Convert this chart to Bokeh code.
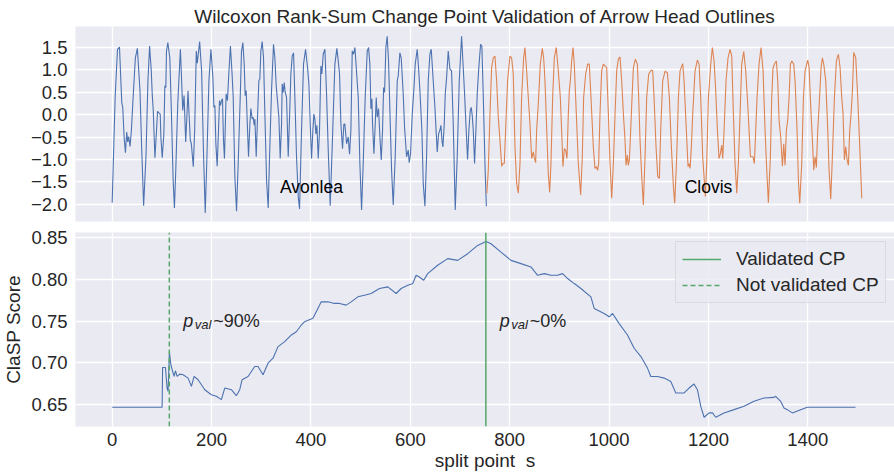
import math
from bokeh.plotting import figure
from bokeh.models import Range1d, FixedTicker, Label, Legend, LegendItem
from bokeh.layouts import column
from bokeh.embed import file_html
from bokeh.resources import INLINE

# ---------------- data ----------------
avonlea_x = [0, 6, 10.7, 14.7, 19.3, 21.3, 24, 26.7, 29.3, 31.3, 33.3, 36, 38.7, 42.7, 46.7, 50.7, 56, 59.3, 63.3, 68,
             72, 75.3, 78.7, 80.7, 82.7, 86, 89.3, 91.3, 94.7, 96.7, 98, 100.7, 104, 106, 108, 109.3, 112, 116, 119.3, 122.7,
             125.3, 128, 132, 137.3, 139.3, 142, 144.7, 148, 152.7, 154.7, 157.3, 159.3, 163.3, 166, 169.3, 171.3, 176, 180, 184, 187.3,
             190.7, 194.7, 198.7, 202.7, 204.7, 206.7, 208.7, 211.3, 214, 216, 218, 220, 222, 224, 226, 229.3, 232, 234.7, 238, 241.3,
             243.6, 246.9, 250.3, 253.6, 257.7, 260.3, 263, 265.7, 267.7, 269.7, 271.7, 274.4, 277.1, 279.1, 281.8, 283.8, 285.8, 287.2, 289.9, 292.5,
             295.2, 297.2, 299.2, 301.9, 304.6, 307.3, 310.7, 314, 316.7, 320.7, 324.7, 327.4, 330.1, 332.1, 335.5, 338.2, 340.9, 342.2, 344.2, 346.2,
             348.2, 350.9, 354.3, 357.6, 359.6, 362.3, 365, 367.7, 371, 374.4, 377.1, 381.1, 385.1, 389.2, 393.2, 395.9, 398.6, 401.2, 403.9, 405.9,
             407.9, 410, 412, 414.7, 417.3, 420, 422, 424.7, 428.1, 431.4, 434.8, 438.8, 442.8, 448.2, 452.2, 455.6, 457.6, 460.3, 463.6, 466.3,
             468.3, 471.7, 475, 477.7, 480.4, 483.1, 485.8, 488.5,
             495.2, 498.5, 501.9, 505.2, 509.2, 513.3, 516, 518.6, 520.7, 522.7, 524, 526.7, 529.4, 531.4, 533.4, 536.1, 538.8, 541.5, 544.1, 546.2,
             548.2, 550.8, 553.5, 556.2, 558.9, 562.3, 565.6, 569.6, 573.7, 575.7, 579, 581.7, 585.7, 588.4, 592.5, 595.8, 597.8, 600.5, 603.9, 607.2,
             609.9, 613.9, 616.6, 619.3, 623.3, 626, 629.4, 632.7, 636.1, 639.4, 642.1, 646.1, 649.5, 651.5, 654.2, 656.9, 659.5, 661.6, 663.6, 665.6,
             668.3, 670.3, 673, 676.3, 679.7, 683, 686.4, 690.4, 694.4, 698.5, 703.2, 706.5, 709.2, 711.9, 715.2, 717.9, 720.6, 722.6, 724.6, 726.7,
             729.3, 732, 734.7, 737.4, 741.4, 744, 746.9, 750.2, 753]
avonlea_y = [-1.96, 0.38, 1.45, 1.50, 0.27, 0.16, -0.50, -0.85, -0.39, -0.61, -0.49, -0.71, -0.35, 0.49, 1.26, 1.47, 0.53, -0.72, -2.03, -0.94,
             0.75, 1.52, 0.97, 0.43, 0.09, -0.96, -0.35, 0.07, 0.03, 0.01, -0.50, -0.96, -0.43, 0.64, 0.60, 1.41, 1.60, 1.26, 0.01, -1.46,
             -2.08, -1.24, 0.24, 1.45, 0.90, 0.09, 0.42, -0.61, 0.53, 0.01, -0.57, -0.65, -1.16, -0.35, 1.41, 1.14, 1.62, 0.97, -0.94, -2.19,
             -0.94, 0.75, 1.45, 0.82, 0.16, 0.20, -0.65, -1.15, -0.35, 0.31, 0.20, 0.31, 0.35, -0.57, -0.98, 0.46, 0.31, 0.90, 1.52, 0.90,
             0.38, -1.38, -2.15, -1.09, 0.38, 1.41, 1.60, 1.12, 0.42, 0.53, -0.13, -0.94, -0.21, 0.13, -0.10, -0.06, -0.24, -0.10, -0.94, -0.06,
             0.75, 0.79, 1.41, 1.62, 1.26, 0.01, -1.46, -2.08, -0.94, 0.53, 1.56, 1.26, 0.64, 0.38, -0.06, -0.98, -0.21, 0.68, 0.49, 0.71,
             0.49, 0.38, -0.94, 0.16, 0.90, 1.30, 1.37, 0.38, -0.94, -1.82, -2.10, -0.35, 1.12, 1.45, 1.04, 0.68, -0.21, -0.98, -0.35, 0.01,
             -0.10, -0.43, -0.24, -0.98, -0.35, 1.08, 0.90, 1.34, 1.45, 0.46, -0.79, -2.03, -0.72, 1.12, 1.47, 1.12, 0.90, -0.21, -0.76, -0.21,
             -0.21, -0.65, -0.50, -0.88, -0.35, 1.41, 1.34, 1.49,
             0.38, -1.09, -2.12, -1.09, 0.38, 1.41, 1.49, 1.12, 0.13, 0.35, -0.21, -0.87, -0.21, 0.38, -0.06, 0.13, -0.50, -1.01, -0.35, 0.60,
             0.49, 1.49, 1.74, 1.19, 0.09, -1.24, -2.01, -0.94, 0.75, 0.86, 1.37, 1.26, 0.46, -0.28, -0.94, -0.79, -1.07, -0.87, 0.01, 0.57,
             1.12, 1.45, 1.04, 0.53, -0.35, -1.53, -2.04, -0.94, 0.75, 1.34, 1.45, 0.75, 0.16, -0.28, -0.83, -0.43, -0.35, -0.24, -0.57, -0.72,
             -0.21, 0.46, 0.82, 1.41, 1.01, 0.97, -0.21, -2.12, -0.94, 0.75, 1.74, 1.04, 0.46, -0.21, -1.00, -0.35, 0.09, 0.16, -0.02, -0.35,
             -1.09, -0.35, 0.46, 0.97, 1.56, 1.52, 0.38, -1.09, -2.04]

clovis_x = [754, 756.9, 760.3, 763.6, 767, 770.3, 773.7, 777, 780.4, 783.8, 786.4, 789.1, 791.8, 795.8, 800.5, 803.9, 807.2, 810.6, 814, 817.3,
            820.7, 824, 828, 830.7, 834.1, 837.4, 840.8, 844.2, 847.5, 849.5, 852.2, 854.2, 857.6, 861.6, 865.6, 868.3, 871, 875, 877.7, 880.4,
            883.1, 886.4, 889.8, 893.8, 897.8, 901.9, 904.5, 907.2, 909.9, 912.6, 915.3, 918, 920, 922, 924.7, 927.4, 930, 934.1, 938.1, 942.8,
            946.1, 948.8, 952.9, 956.9, 960.2, 963.6, 968.3, 971.6, 974.3, 977, 979, 981.7, 985.1, 988.4, 991.8, 995.2, 998.6, 1001.9, 1005.3,
            1008.6, 1012, 1015.3, 1018.7, 1022, 1025.4, 1028.8, 1032.1, 1034.1, 1036.8, 1038.8, 1040.8, 1043.5, 1046.2, 1048.9, 1052.9, 1056.9, 1059.6, 1062.3, 1065.7,
            1069, 1072.4, 1075.7, 1079.7, 1085.1, 1087.8, 1090.5, 1094.5, 1097.9, 1101.2, 1103.9, 1107.9, 1112.6, 1117.3, 1121.3, 1125.4, 1129.4, 1132.1, 1136.1, 1139.5,
            1142.8, 1148.2, 1150.9, 1154.9, 1158.9, 1160.9, 1163, 1165.6, 1168.3, 1173, 1177.7, 1181.1, 1184.4, 1188.4, 1193.8, 1196.5, 1199.9, 1204.6, 1207.9, 1211.3,
            1214.6, 1218, 1221.3, 1224, 1226.7, 1228.7, 1231.4, 1235.4, 1239.4, 1243.5,
            1246.8, 1250.2, 1253.5, 1256.9, 1260.2, 1263.6, 1266.9, 1271, 1275, 1279, 1281.7, 1284.4, 1287.1, 1289.7, 1292.4, 1295.1, 1297.8, 1301.8, 1305.8, 1309.9,
            1313.9, 1317.3, 1320.6, 1324.6, 1327.3, 1330, 1334, 1336.7, 1339.4, 1342.1, 1345.4, 1348.8, 1351.5, 1354.2, 1356.8, 1359.5, 1362.2, 1364.9, 1367.6, 1371.6,
            1374.3, 1378.3, 1381, 1383.7, 1387.7, 1391.1, 1394.4, 1399.8, 1402.5, 1406.5, 1409.2, 1411.9, 1414.6, 1417.2, 1419.9, 1422.6, 1426.6, 1429.3, 1432, 1436,
            1440.1, 1442.7, 1446.1, 1449.4, 1453.5, 1457.5, 1461.5, 1464.9, 1468.2, 1470.9, 1473.6, 1476.3, 1479, 1481.6, 1484.3, 1487, 1489.7, 1492.4, 1496.4, 1500.4,
            1504.5, 1508.5]
clovis_y = [-1.75, -1.24, 0.01, 1.04, 1.26, 1.30, 0.75, -0.06, -0.57, -1.15, -1.09, -1.09, -0.35, 0.75, 1.30, 1.26, 0.90, -0.72, -1.53, -1.75,
            -1.09, 0.38, 1.26, 1.49, 0.97, 0.38, -0.21, -0.98, -0.83, -0.96, -1.07, -0.35, 0.24, 1.12, 1.47, 1.26, 0.75, -0.50, -1.31, -1.73,
            -1.09, 0.38, 1.26, 1.49, 0.97, 0.38, -0.35, -1.16, -0.76, -0.79, -0.98, 0.01, 0.53, 0.75, 1.19, 1.49, 1.12, 0.01, -1.09, -1.79,
            -0.94, 0.38, 0.90, 1.12, 1.12, 0.38, -0.72, -1.20, -1.16, -1.24, -1.09, 0.01, 0.97, 1.12, 1.08, 1.04, 0.01, -1.09, -1.86,
            -1.09, 0.01, 0.97, 1.23, 1.28, 0.75, 0.01, -0.57, -1.13, -0.90, -1.13, -1.01, -0.35, 0.38, 1.04, 1.23, 1.12, 0.38, -0.57, -1.38,
            -2.01, -0.94, 0.38, 0.90, 0.99, 0.97, 0.38, -0.72, -1.38, -1.42, -0.35, 0.75, 0.96, 0.93, 0.38, -0.72, -1.60, -1.97, -0.94, 0.38,
            0.97, 1.13, 0.75, -0.21, -1.16, -1.09, -1.20, -0.72, 0.01, 0.97, 1.21, 1.12, 0.38, -0.94, -1.82, -1.09, 0.38, 1.12, 1.49, 1.19,
            0.53, -0.35, -0.98, -0.87, -0.68, -0.98, -0.35, 0.75, 1.26, 1.45,
            1.30, 0.01, -1.09, -1.75, -1.09, 0.01, 1.12, 1.40, 0.97, 0.24, -0.35, -0.94, -0.94, -0.94, -1.09, -0.35, 0.38, 1.12, 1.49, 0.97,
            -0.35, -1.24, -1.96, -0.94, 0.38, 1.04, 1.15, 1.19, 0.75, -0.13, -0.50, -1.15, -0.65, -1.13, -0.35, -0.13, 0.38, 1.12, 1.19, 1.12,
            0.75, -0.35, -1.46, -1.97, -1.09, 0.38, 0.97, 1.21, 1.04, 0.01, -0.57, -1.24, -0.94, -1.18, -0.35, 0.16, 1.04, 1.26, 1.12, 0.75,
            -0.35, -1.24, -1.88, -0.94, 0.38, 1.19, 1.34, 1.04, 0.38, 0.01, -1.01, -0.72, -1.01, -1.13, -0.35, 0.01, 0.53, 1.38, 1.26, 0.38,
            -0.72, -1.86]

profile_x = [0, 100.5, 101.5, 107.2, 110.5, 112.5, 115.2, 117.9, 121.3, 124.6, 127.3, 130.7, 136, 142.8, 152.8, 159.5, 164.8, 172.9, 186.3, 199.6,
             209.7, 219.8, 226.5, 239.9, 249.9, 256.7, 261.4, 273.5, 286.9, 293.6, 303.6, 313.7, 323.7, 333.8, 347.2, 360.6, 370.6, 380.7, 387.2, 404,
             414, 420.7, 434, 447.5, 457.5, 471, 481, 494.4, 507.8, 521.2, 538, 554.7, 571.5, 581.5, 595, 605, 611.7, 618, 627, 635,
             655, 675.3, 695.4, 715.5, 735.6, 752.4, 762.4, 782.5, 802.6, 822.7, 842.8, 856.2, 869.6, 883, 896, 906.5, 916.5, 930, 943.3, 963.4,
             970, 990, 1000.2, 1007, 1020, 1037, 1050.5, 1064, 1077.3, 1084, 1097.4, 1110.8, 1124.2, 1134.3, 1151, 1161, 1171, 1177.8, 1184.5, 1191.2,
             1201.3, 1208, 1214.7, 1231.4, 1251.5, 1271.6, 1291.7, 1311.8, 1331.9, 1335.3, 1345.3, 1352, 1358.7, 1368.8, 1385.5, 1399, 1496]
profile_y = [0.6468, 0.6468, 0.6945, 0.6945, 0.6699, 0.666, 0.7128, 0.6985, 0.6906, 0.6838, 0.6906, 0.6838, 0.6866, 0.6858, 0.6818, 0.6719, 0.6838, 0.6798, 0.6679, 0.6619,
             0.660, 0.656, 0.6699, 0.6679, 0.6607, 0.6679, 0.6798, 0.6838, 0.6957, 0.6957, 0.6858, 0.6997, 0.7057, 0.7195, 0.7255, 0.7335, 0.7374, 0.7454, 0.7494, 0.7534,
             0.7653, 0.7732, 0.7732, 0.7713, 0.7713, 0.7693, 0.7732, 0.7792, 0.7812, 0.7832, 0.7892, 0.7911, 0.7832, 0.7892, 0.7931, 0.7951, 0.805, 0.803, 0.7991, 0.807,
             0.817, 0.825, 0.8229, 0.8309, 0.8408, 0.8456, 0.8428, 0.8328, 0.8229, 0.819, 0.815, 0.805, 0.807, 0.805, 0.805, 0.807, 0.8011, 0.7951, 0.7892, 0.7792,
             0.7653, 0.7593, 0.7553, 0.7593, 0.7474, 0.7335, 0.7176, 0.7076, 0.6938, 0.6838, 0.6838, 0.6818, 0.6778, 0.664, 0.664, 0.6699, 0.6747, 0.6679, 0.648, 0.6349,
             0.6401, 0.6401, 0.6349, 0.6401, 0.644, 0.648, 0.654, 0.658, 0.6587, 0.66, 0.654, 0.646, 0.644, 0.6401, 0.644, 0.6468, 0.6468]

segment_names = ["Avonlea", "Clovis"]
segment_label_x = [401, 1200]
change_points = [115, 752]
cp_validated = [False, True]
cp_pvalues = ["~90%", "~0%"]

x_ticks = [0, 200, 400, 600, 800, 1000, 1200, 1400]
top_y_ticks = [-2.0, -1.5, -1.0, -0.5, 0.0, 0.5, 1.0, 1.5]
bottom_y_ticks = [0.65, 0.70, 0.75, 0.80, 0.85]

assert len(avonlea_x) == len(avonlea_y)
assert len(clovis_x) == len(clovis_y)
assert len(profile_x) == len(profile_y)

# ---------------- style ----------------
FONT = "Liberation Sans"
TXT = "#262626"
BG = "#EAEAF2"
BLUE = "#4C72B0"
ORANGE = "#DD8452"
GREEN = "#55A868"
X0, X1 = -73.8, 1574.4
TY0, TY1 = -2.378, 1.956
BY0, BY1 = 0.6238, 0.8563


def fmt(v, nd):
    s = f"{v:.{nd}f}"
    return s.replace("-", "\u2212")


def style(p, yticks, nd):
    p.background_fill_color = BG
    p.border_fill_color = "white"
    p.outline_line_color = None
    p.xgrid.ticker = FixedTicker(ticks=x_ticks)
    p.ygrid.ticker = FixedTicker(ticks=yticks)
    p.grid.grid_line_color = "white"
    p.grid.grid_line_width = 1.3
    p.xaxis.ticker = FixedTicker(ticks=x_ticks)
    p.yaxis.ticker = FixedTicker(ticks=yticks)
    p.yaxis.major_label_overrides = {t: fmt(t, nd) for t in yticks}
    for ax in p.axis:
        ax.axis_line_color = None
        ax.major_tick_line_color = None
        ax.minor_tick_line_color = None
        ax.major_tick_out = 0
        ax.major_tick_in = 0
        ax.minor_tick_out = 0
        ax.major_label_text_font = FONT
        ax.major_label_text_font_size = "18.5px"
        ax.major_label_text_color = TXT
        ax.axis_label_text_font = FONT
        ax.axis_label_text_font_size = "19px"
        ax.axis_label_text_font_style = "normal"
        ax.axis_label_text_color = TXT
    p.yaxis.major_label_standoff = 8
    p.xaxis.major_label_standoff = 6


p1 = figure(width=894, height=226, x_range=Range1d(X0, X1), y_range=Range1d(TY0, TY1),
            output_backend="svg", toolbar_location=None,
            min_border_left=74, min_border_right=0, min_border_top=26, min_border_bottom=5)
style(p1, top_y_ticks, 1)
p1.xaxis.visible = False
p1.title.text = "Wilcoxon Rank-Sum Change Point Validation of Arrow Head Outlines"
p1.title.align = "center"
p1.title.text_font = FONT
p1.title.text_font_size = "19px"
p1.title.text_font_style = "normal"
p1.title.text_color = TXT
p1.title.standoff = 0
p1.title.offset = 0

p1.line(avonlea_x, avonlea_y, line_color=BLUE, line_width=1.1)
p1.line(clovis_x, clovis_y, line_color=ORANGE, line_width=1.1)

for name, lx in zip(segment_names, segment_label_x):
    p1.add_layout(Label(x=lx, y=-1.615, text=name, text_align="center", text_baseline="alphabetic",
                        text_font=FONT, text_font_size="17.5px", text_color="black"))

p2 = figure(width=894, height=247, x_range=Range1d(X0, X1), y_range=Range1d(BY0, BY1),
            output_backend="svg", toolbar_location=None,
            min_border_left=74, min_border_right=0, min_border_top=6, min_border_bottom=46)
style(p2, bottom_y_ticks, 2)
p2.yaxis.axis_label = "ClaSP Score"
p2.yaxis.axis_label_standoff = 4
p2.xaxis.axis_label = "split point\u00a0\u00a0s"
p2.xaxis.axis_label_standoff = 1

p2.line(profile_x, profile_y, line_color=BLUE, line_width=1.1)

cp_renderers = {}
for cp, ok, pv in zip(change_points, cp_validated, cp_pvalues):
    r = p2.segment(x0=[cp], y0=[BY0], x1=[cp], y1=[BY1], line_color=GREEN, line_width=1.5,
                   line_dash="solid" if ok else "5 3")
    cp_renderers[ok] = r
    base = cp + 28
    p2.add_layout(Label(x=base, y=0.75, text="p", text_font=FONT, text_font_style="italic",
                        text_font_size="18px", text_color=TXT, text_baseline="alphabetic"))
    p2.add_layout(Label(x=base, x_offset=11.5, y=0.75, y_offset=-3.5, text="val", text_font=FONT,
                        text_font_style="italic", text_font_size="13px", text_color=TXT,
                        text_baseline="alphabetic"))
    p2.add_layout(Label(x=base, x_offset=30, y=0.75, text=pv, text_font=FONT,
                        text_font_size="18px", text_color=TXT, text_baseline="alphabetic"))

legend = Legend(items=[LegendItem(label="Validated CP", renderers=[cp_renderers[True]]),
                       LegendItem(label="Not validated CP", renderers=[cp_renderers[False]])],
                location=(600, 123))
legend.label_text_font = FONT
legend.label_text_font_size = "19px"
legend.label_text_color = TXT
legend.glyph_width = 39
legend.glyph_height = 20
legend.label_standoff = 15
legend.padding = 6
legend.spacing = 4
legend.margin = 0
legend.background_fill_color = BG
legend.background_fill_alpha = 0.8
legend.border_line_color = "#CCCCCC"
legend.border_line_width = 1
p2.add_layout(legend)

layout = column(p1, p2)
open("out.html", "w").write(file_html(layout, INLINE))
